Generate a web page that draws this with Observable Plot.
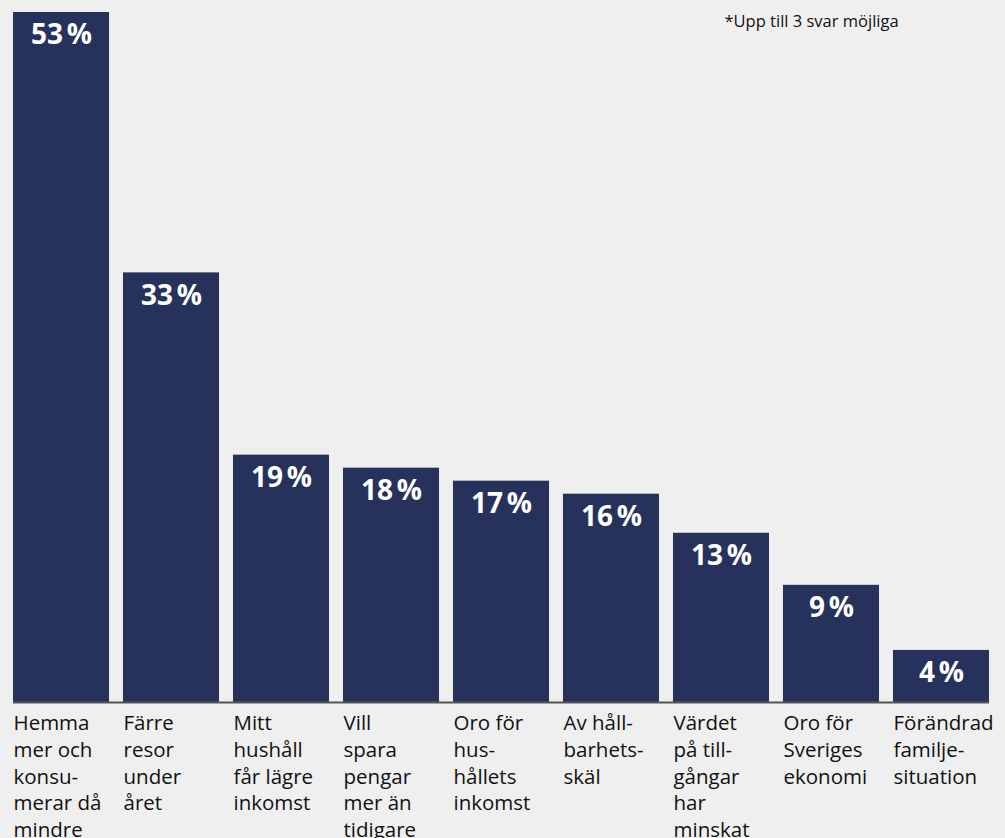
<!DOCTYPE html>
<html>
<head>
<meta charset="utf-8">
<script src="https://cdn.jsdelivr.net/npm/d3@7"></script>
<script src="https://cdn.jsdelivr.net/npm/@observablehq/plot@0.6"></script>
<style>
  html, body { margin: 0; padding: 0; background: #efefef; }
  #chart { width: 1005px; height: 838px; overflow: hidden; }
  svg { display: block; }
</style>
</head>
<body>
<div id="chart"></div>
<script>
const categories = [
  "Hemma\nmer och\nkonsu-\nmerar då\nmindre",
  "Färre\nresor\nunder\nåret",
  "Mitt\nhushåll\nfår lägre\ninkomst",
  "Vill\nspara\npengar\nmer än\ntidigare",
  "Oro för\nhus-\nhållets\ninkomst",
  "Av håll-\nbarhets-\nskäl",
  "Värdet\npå till-\ngångar\nhar\nminskat",
  "Oro för\nSveriges\nekonomi",
  "Förändrad\nfamilje-\nsituation"
];
const values = [53, 33, 19, 18, 17, 16, 13, 9, 4];
const valueLabels = values.map(v => v + "\u202F%");
const footnote = "*Upp till 3 svar möjliga";

const data = categories.map((c, i) => ({ cat: c, value: values[i], label: valueLabels[i] }));

const barColor = "#26325c";
const font = "'Open Sans', sans-serif";

const chart = Plot.plot({
  width: 1005,
  height: 838,
  marginTop: 12,
  marginBottom: 136,
  marginLeft: 13,
  marginRight: 16,
  style: { background: "#efefef", fontFamily: font, overflow: "visible" },
  x: { domain: categories, paddingInner: 0.127, paddingOuter: 0, round: false, axis: null },
  y: { domain: [0, 53], axis: null },
  marks: [
    Plot.barY(data, { x: "cat", y: "value", fill: barColor }),
    Plot.ruleY([0], { stroke: "#555", strokeWidth: 2 }),
    Plot.text(data, {
      x: "cat", y: "value", text: "label", fill: "white",
      fontSize: 28, fontWeight: 700, dy: 23, textAnchor: "middle",
      style: { letterSpacing: "-0.5px" }
    }),
    Plot.text(data, {
      x: "cat", y: 0, text: "cat", fill: "#111",
      fontSize: 20.5, textAnchor: "start", lineAnchor: "top", lineHeight: 1.3,
      dx: -48, dy: 9
    }),
    Plot.text([footnote], {
      frameAnchor: "top-right", text: d => d, fill: "#111", fontSize: 16.5,
      textAnchor: "start", dx: -265, dy: 3
    })
  ]
});
document.getElementById("chart").appendChild(chart);
</script>
</body>
</html>
